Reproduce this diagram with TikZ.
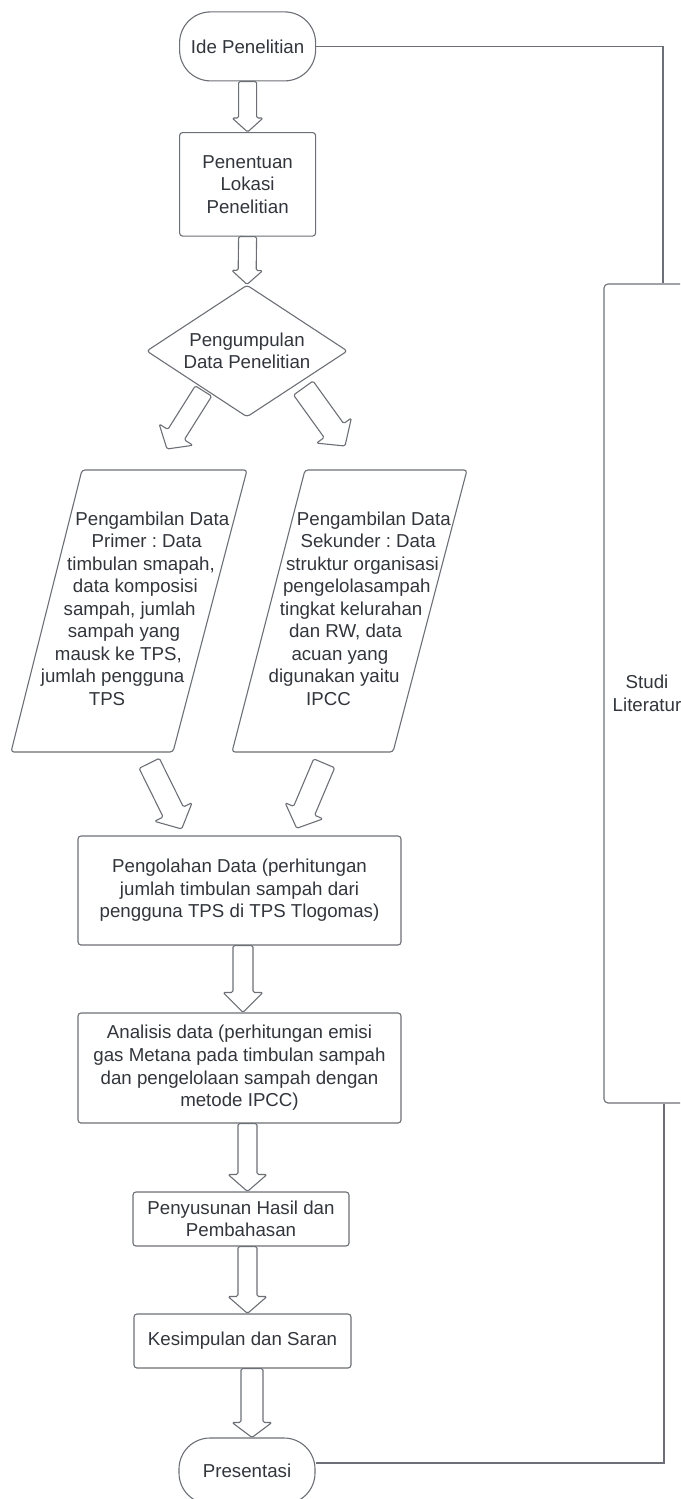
\documentclass[tikz,border=0pt]{standalone}
\usepackage{fontspec}
\setmainfont{Liberation Sans}
\usetikzlibrary{shapes.geometric,calc}
\definecolor{ln}{RGB}{108,112,118}
\definecolor{tx}{RGB}{50,54,60}
\frenchspacing
\tikzset{
  every node/.style={font=\fontsize{18.7}{22.6}\selectfont, text=tx},
  box/.style={draw=ln, line width=1.1pt, rounded corners=3pt, fill=white, align=center, inner sep=0pt},
  term/.style={draw=ln, line width=1.1pt, rounded corners=31pt, fill=white, align=center, inner sep=0pt},
  dec/.style={diamond, aspect=1.523, draw=ln, line width=1.1pt, rounded corners=3pt, fill=white, align=center, inner sep=0pt},
  para/.style={draw=ln, line width=1.1pt, rounded corners=3pt, fill=white},
  ptxt/.style={inner sep=0pt, text height=13.4pt, text depth=0pt},
  barr/.style={draw=ln, line width=1.1pt, fill=white, rounded corners=1.5pt, line join=round},
  conn/.style={draw=ln, line width=1.1pt}
}
\newcommand\barrow[5]{%
  \coordinate (bH) at ($(#2)!#5pt!(#1)$);
  \draw[barr] ($(#1)!#3pt!90:(#2)$) -- ($(bH)!#3pt!-90:(#1)$) -- ($(bH)!#4pt!-90:(#1)$) -- (#2)
    -- ($(bH)!#4pt!90:(#1)$) -- ($(bH)!#3pt!90:(#1)$) -- ($(#1)!#3pt!-90:(#2)$) -- cycle;
}
\begin{document}
\begin{tikzpicture}[x=1pt,y=-1pt]
\useasboundingbox (0,0) rectangle (680,1499);
\clip (0,0) rectangle (680,1499);

% diagonal arrows from the decision
\coordinate (dla) at (203.5,391);
\coordinate (dlb) at (167,449);
\coordinate (dra) at (303.3,388);
\coordinate (drb) at (345,446);
\barrow{dla}{dlb}{9.7}{20}{17}
\barrow{dra}{drb}{12}{21.5}{19}

% nodes
\node[term, minimum width=136pt, minimum height=69pt] (ide) at (247.6,46.4) {Ide Penelitian};
\node[box, minimum width=136pt, minimum height=103.5pt] (pen) at (247.6,184.3) {Penentuan\\Lokasi\\Penelitian};
\node[dec, minimum width=201pt, minimum height=132pt] (dia) at (247,351) {Pengumpulan\\Data Penelitian};

% parallelograms
\draw[para] (82,470) -- (247,470) -- (173,752) -- (11,752) -- cycle;
\draw[para] (305,470) -- (467,470) -- (393,752) -- (232,752) -- cycle;
\foreach \t [count=\i from 0] in {Pengambilan Data, Primer : Data, {timbulan smapah,}, data komposisi, {sampah, jumlah}, sampah yang, {mausk ke TPS,}, jumlah pengguna, TPS}{
  \node[ptxt] (pl\i) at ({164.5-0.2518*(22.5*\i+48.3)}, {518.3+22.5*\i}) {\t};
}
\foreach \t [count=\i from 0] in {Pengambilan Data, Sekunder : Data, struktur organisasi, pengelolasampah, tingkat kelurahan, {dan RW, data}, acuan yang, digunakan yaitu, IPCC}{
  \node[ptxt] (pr\i) at ({386-0.2518*(22.5*\i+48.3)}, {518.3+22.5*\i}) {\t};
}

\node[box, minimum width=323pt, minimum height=109pt] (olah) at (239.5,890.5) {Pengolahan Data (perhitungan\\jumlah timbulan sampah dari\\pengguna TPS di TPS Tlogomas)};
\node[box, minimum width=323pt, minimum height=110pt] (anal) at (239.5,1068) {Analisis data (perhitungan emisi\\gas Metana pada timbulan sampah\\dan pengelolaan sampah dengan\\metode IPCC)};
\node[box, minimum width=216pt, minimum height=54pt] (susun) at (241,1219) {Penyusunan Hasil dan\\Pembahasan};
\node[box, minimum width=217pt, minimum height=54pt] (simp) at (242.5,1341) {Kesimpulan dan Saran};
\node[term, minimum width=136pt, minimum height=66pt] (pres) at (247,1471) {Presentasi};
\node[box, rounded corners=4pt, minimum width=86pt, minimum height=819pt] (studi) at (647,693.5) {Studi\\Literatur};

% lower diagonal arrows
\coordinate (pla) at (149.2,763.3);
\coordinate (plb) at (181.7,829);
\coordinate (pra) at (324.2,763.3);
\coordinate (prb) at (296.7,828.3);
\barrow{pla}{plb}{11.3}{21}{19}
\barrow{pra}{prb}{11.4}{20.6}{19}

% vertical arrows
\barrow{ide.south}{pen.north}{9}{15.5}{14}
\barrow{pen.south}{dia.north}{9}{15.5}{14}
\coordinate (x3) at (243,0);
\coordinate (x4) at (247.5,0);
\coordinate (x6) at (252,0);
\coordinate (a3s) at (olah.south -| x3);
\coordinate (a3e) at (anal.north -| x3);
\barrow{a3s}{a3e}{10}{20}{20}
\coordinate (a4s) at (anal.south -| x4);
\coordinate (a4e) at (susun.north -| x4);
\barrow{a4s}{a4e}{9.5}{19.5}{17}
\coordinate (a5s) at (susun.south -| x4);
\coordinate (a5e) at (simp.north -| x4);
\barrow{a5s}{a5e}{9.5}{19.5}{17}
\coordinate (a6s) at (simp.south -| x6);
\coordinate (a6e) at (pres.north -| x6);
\barrow{a6s}{a6e}{11}{20}{15}

% connectors to Studi Literatur
\coordinate (c1) at (663,47.3);
\coordinate (c2) at (664,1463);
\draw[conn] (ide.east) -- (ide.east -| c1) -- (studi.north -| c1);
\draw[conn] (studi.south -| c2) -- (c2) -- (c2 -| pres.east);
\end{tikzpicture}
\end{document}
